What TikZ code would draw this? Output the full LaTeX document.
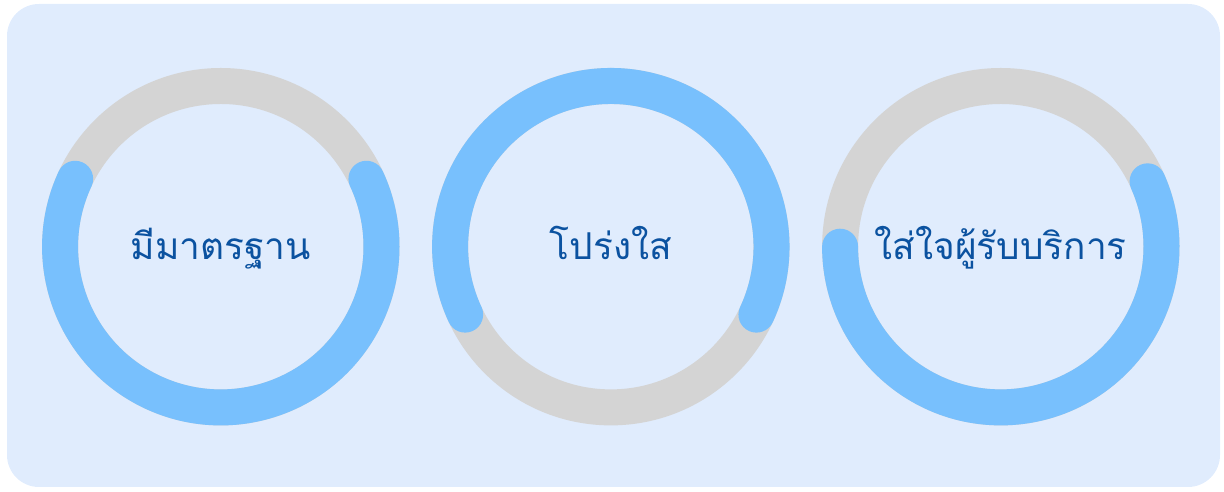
\documentclass[tikz,border=0pt]{standalone}
\usepackage{fontspec}
\newfontfamily\thaifont[Script=Thai]{Loma}
\definecolor{bgblue}{HTML}{E0ECFD}
\definecolor{ringgray}{HTML}{D4D4D4}
\definecolor{ringblue}{HTML}{78C0FD}
\definecolor{txtblue}{HTML}{0B52A0}
\begin{document}
\begin{tikzpicture}[x=1pt,y=1pt,
  track/.style={draw=ringgray,line width=36pt},
  progress/.style={draw=ringblue,line width=36pt,line cap=round},
  label/.style={font=\thaifont\fontsize{37}{44}\selectfont,text=txtblue,anchor=base,inner sep=0pt}]
\useasboundingbox (0,0) rectangle (1224,492);
\fill[bgblue,rounded corners=32pt] (7,5) rectangle (1220,488);
% ring 1
\coordinate (c1) at (220.8,245.3);
\draw[track] (c1) circle[radius=160.7];
\draw[progress] (c1) ++(155:160.7) arc[start angle=155,end angle=385,radius=160.7];
\node[label] (t1) at (220.8,232) {มีมาตรฐาน};
% ring 2
\coordinate (c2) at (610.8,245.3);
\draw[track] (c2) circle[radius=160.7];
\draw[progress] (c2) ++(-25:160.7) arc[start angle=-25,end angle=205,radius=160.7];
\node[label] (t2) at (610.8,232) {โปร่งใส};
% ring 3
\coordinate (c3) at (1000.8,245.3);
\draw[track] (c3) circle[radius=160.7];
\draw[progress] (c3) ++(180:160.7) arc[start angle=180,end angle=384,radius=160.7];
\node[label] (t3) at (1000.8,232) {ใส่ใจผู้รับบริการ};
\end{tikzpicture}
\end{document}
